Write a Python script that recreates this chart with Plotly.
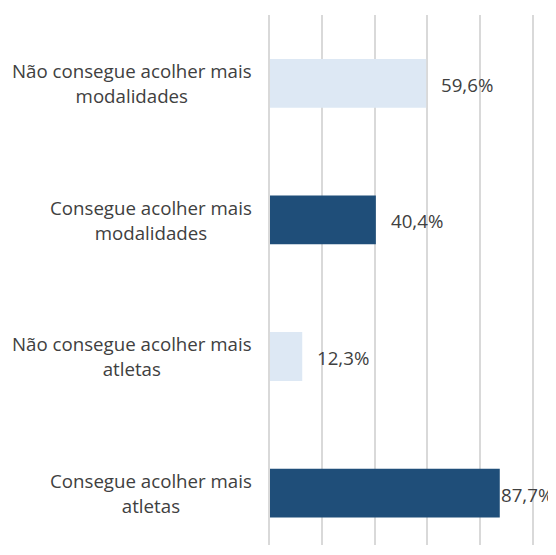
import plotly.graph_objects as go

categorias = [
    "Consegue acolher mais<br>atletas",
    "Não consegue acolher mais<br>atletas",
    "Consegue acolher mais<br>modalidades",
    "Não consegue acolher mais<br>modalidades",
]
valores = [87.7, 12.3, 40.4, 59.6]
cores = ["#1F4E79", "#DDE8F4", "#1F4E79", "#DDE8F4"]

rotulos = [f"{v:.1f}%".replace(".", ",") for v in valores]

fig = go.Figure(go.Bar(
    y=categorias, x=valores, orientation="h",
    marker_color=cores, marker_line_width=0, width=0.357,
    hoverinfo="skip",
))

FONT = "Open Sans"
COR_TEXTO = "#404040"
COR_GRADE = "#D9D9D9"
TAM = 18.7

# rotulos das categorias (centralizados, como no original)
for cat in categorias:
    linhas = cat.split("<br>")
    txt = "<br>".join(f"<span style='font-size:{TAM}px'>{l}</span>" for l in linhas)
    fig.add_annotation(
        x=0, y=cat, xref="x", yref="y", text=txt, showarrow=False,
        xanchor="right", yanchor="middle", align="center", xshift=-16,
        font=dict(family=FONT, size=19.2, color=COR_TEXTO),
    )

# rotulos de valores
for cat, v, r in zip(categorias, valores, rotulos):
    fig.add_annotation(
        x=v, y=cat, xref="x", yref="y", text=r, showarrow=False,
        xanchor="left", yanchor="middle", xshift=-1 if v > 80 else 13, yshift=-1,
        font=dict(family=FONT, size=TAM, color=COR_TEXTO),
    )

fig.update_xaxes(
    range=[0, 100], dtick=20, showticklabels=False, ticks="",
    showgrid=True, gridcolor=COR_GRADE, gridwidth=2,
    zeroline=False, showline=False,
)
# linhas em 0% e 100%: linha do eixo y espelhada nas duas bordas
fig.update_yaxes(
    range=[-0.38, 3.5], showticklabels=False, ticks="",
    showgrid=False, zeroline=False,
    showline=True, mirror=True, linecolor=COR_GRADE, linewidth=2,
)
fig.update_layout(
    width=546, height=537,
    margin=dict(l=262, r=22, t=7, b=0),
    paper_bgcolor="white", plot_bgcolor="white",
    showlegend=False,
    font=dict(family=FONT, color=COR_TEXTO),
)

fig.write_html("out.html")
